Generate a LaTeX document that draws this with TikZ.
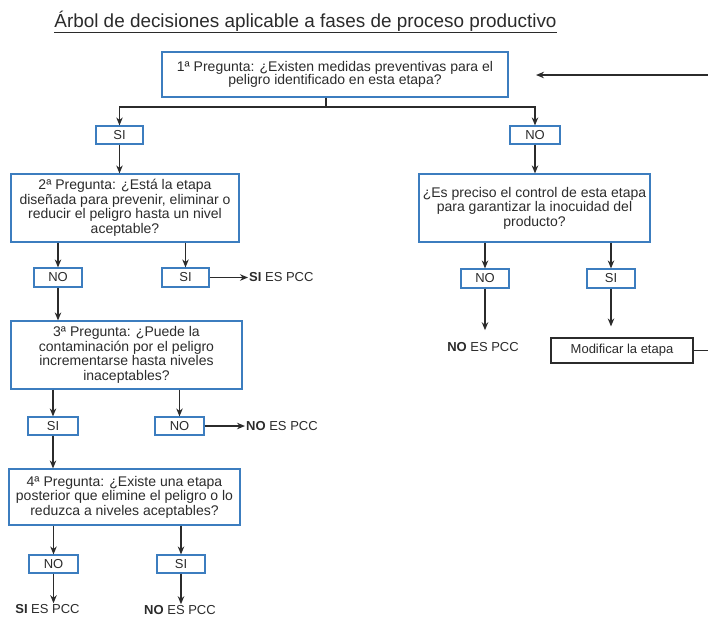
\documentclass[tikz,border=0pt]{standalone}
\usepackage{fontspec}
\setmainfont{Liberation Sans}
\usetikzlibrary{arrows.meta}
\definecolor{boxblue}{HTML}{3C7DBF}
\definecolor{inkgray}{HTML}{2B2B2B}

\begin{document}
\begin{tikzpicture}[
    x=1pt, y=-1pt,
    >={Stealth[length=8pt,width=6.5pt]},
    every node/.style={text=inkgray},
    question/.style={
        draw=boxblue,
        line width=1.2pt,
        rectangle,
        align=center,
        inner sep=0pt,
        font=\fontsize{14}{14.5}\selectfont
    },
    answer/.style={
        draw=boxblue,
        line width=1.2pt,
        rectangle,
        minimum width=48pt,
        minimum height=18pt,
        inner sep=0pt,
        font=\fontsize{13}{14}\selectfont
    },
    verdict/.style={inner sep=1pt, font=\fontsize{13}{14}\selectfont},
    flow/.style={->, draw=inkgray, line width=1.3pt},
    wire/.style={draw=inkgray, line width=1.3pt}
]
    \useasboundingbox (0,0) rectangle (708,619);
    \clip (0,0) rectangle (708,619);

    \node[font=\fontsize{18.9}{20}\selectfont] (title) at (305.5,22)
        {\underline{Árbol de decisiones aplicable a fases de proceso productivo}};

    % first question
    \node[question, minimum width=346pt, minimum height=45pt,
        font=\fontsize{14}{13.5}\selectfont] (q1) at (335,74.5)
        {1ª Pregunta: ¿Existen medidas preventivas para el\\
         peligro identificado en esta etapa?};
    \coordinate (fork) at (326,107);
    \coordinate (backin) at (536,75);
    \coordinate (edge) at (720,75);

    \node[answer, minimum width=47pt] (si1) at (119.5,135) {SI};
    \node[answer, minimum width=50pt] (no1) at (535,135) {NO};

    % left branch
    \node[question, minimum width=228pt, minimum height=68pt] (q2) at (125,208)
        {2ª Pregunta: ¿Está la etapa\\
         diseñada para prevenir, eliminar o\\
         reducir el peligro hasta un nivel\\
         aceptable?};
    \node[answer, minimum height=19pt] (no2) at (58,277.5) {NO};
    \node[answer, minimum width=47pt, minimum height=19pt] (si2) at (185.5,277.5) {SI};
    \node[verdict, anchor=west] (pcc2) at (248,277.5) {\textbf{SI} ES PCC};

    \node[question, minimum width=231pt, minimum height=68pt] (q3) at (126.5,355)
        {3ª Pregunta: ¿Puede la\\
         contaminación por el peligro\\
         incrementarse hasta niveles\\
         inaceptables?};
    \node[answer, minimum width=50pt] (si3) at (53,426) {SI};
    \node[answer, minimum width=49pt] (no3) at (179.5,426) {NO};
    \node[verdict, anchor=west] (pcc3) at (245,426) {\textbf{NO} ES PCC};

    \node[question, minimum width=231pt, minimum height=56pt] (q4) at (124.5,497)
        {4ª Pregunta: ¿Existe una etapa\\
         posterior que elimine el peligro o lo\\
         reduzca a niveles aceptables?};
    \node[answer, minimum width=49pt] (no4) at (53.5,564) {NO};
    \node[answer] (si4) at (181,564) {SI};
    \node[verdict] (pcc4a) at (47.5,609) {\textbf{SI} ES PCC};
    \node[verdict] (pcc4b) at (180,610) {\textbf{NO} ES PCC};

    % right branch
    \node[question, minimum width=231pt, minimum height=68pt] (qr) at (534.5,208)
        {¿Es preciso el control de esta etapa\\
         para garantizar la inocuidad del\\
         producto?};
    \node[answer, minimum height=19pt] (nor) at (485,278.5) {NO};
    \node[answer, minimum height=19pt] (sir) at (611,278.5) {SI};
    \node[verdict] (pccr) at (483,347) {\textbf{NO} ES PCC};
    \node[
        draw=inkgray,
        line width=1.2pt,
        rectangle,
        minimum width=142pt,
        minimum height=25pt,
        font=\fontsize{13}{14}\selectfont
    ] (mod) at (622,350.5) {Modificar la etapa};

    \draw[wire] (q1.south -| fork) -- (fork);
    \draw[flow] (fork) -| (si1);
    \draw[flow] (fork) -| (no1);

    \draw[flow] (si1) -- (si1 |- q2.north);
    \draw[flow] (q2.south -| no2) -- (no2);
    \draw[flow] (q2.south -| si2) -- (si2);
    \draw[flow] (si2) -- (pcc2);

    \draw[flow] (no2) -- (no2 |- q3.north);
    \draw[flow] (q3.south -| si3) -- (si3);
    \draw[flow] (q3.south -| no3) -- (no3);
    \draw[flow] (no3) -- (pcc3);

    \draw[flow] (si3) -- (si3 |- q4.north);
    \draw[flow] (q4.south -| no4) -- (no4);
    \draw[flow] (q4.south -| si4) -- (si4);
    \draw[flow] (no4) -- (no4 |- pcc4a.north);
    \draw[flow] (si4) -- (si4 |- pcc4b.north);

    \draw[flow] (no1) -- (no1 |- qr.north);
    \draw[flow] (qr.south -| nor) -- (nor);
    \draw[flow] (qr.south -| sir) -- (sir);
    \draw[flow, shorten >=11pt] (nor) -- (nor |- pccr.north);
    \draw[flow, shorten >=11pt] (sir) -- (sir |- mod.north);

    \draw[flow] (mod.east) -| (edge) -- (backin);
\end{tikzpicture}
\end{document}
